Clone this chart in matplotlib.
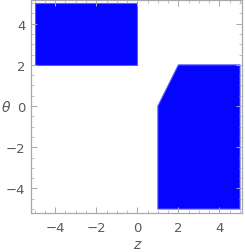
import matplotlib
matplotlib.use("Agg")
import matplotlib.pyplot as plt
from matplotlib.patches import Polygon
from matplotlib.ticker import MultipleLocator

# Region vertices (z, theta)
region1_z = [-5, 0, 0, -5]
region1_theta = [2, 2, 5, 5]
region2_z = [1, 1, 2, 5, 5]
region2_theta = [-5, 0, 2, 2, -5]
ticks = [-4, -2, 0, 2, 4]

fig = plt.figure(figsize=(2.45, 2.53), dpi=100)
ax = fig.add_axes([0.1265, 0.156, 0.8615, 0.84])

fill = "#0505ff"
edge = "#5a5aff"
for zs, ts in [(region1_z, region1_theta), (region2_z, region2_theta)]:
    ax.add_patch(Polygon(list(zip(zs, ts)), closed=True, facecolor=fill,
                         edgecolor=edge, linewidth=0.8))

ax.set_xlim(-5.18, 5.1)
ax.set_ylim(-5.17, 5.15)
ax.set_xticks(ticks)
ax.set_yticks(ticks)
ax.set_xticklabels([f"{t}".replace("-", "\u2212") for t in ticks])
ax.set_yticklabels([f"{t}".replace("-", "\u2212") for t in ticks])
ax.xaxis.set_minor_locator(MultipleLocator(0.5))
ax.yaxis.set_minor_locator(MultipleLocator(0.5))

gray = "#a8a8a8"
for s in ax.spines.values():
    s.set_color(gray)
    s.set_linewidth(0.9)
ax.tick_params(which="both", direction="in", color=gray, labelcolor="#5a5a5a",
               labelsize=9.5, top=True, right=True)
ax.tick_params(which="major", length=4, width=0.7)
ax.tick_params(axis="x", which="major", pad=6)
ax.tick_params(axis="y", which="major", pad=4)
ax.tick_params(which="minor", length=2, width=0.5)

fig.text(137 / 245, 1 - 245 / 253, "z", ha="center", va="center",
         fontsize=10, color="#5a5a5a", style="italic")
fig.text(6 / 245, 1 - 108 / 253, "θ", ha="center", va="center",
         fontsize=10, color="#5a5a5a", style="italic")

fig.savefig("out.png", dpi=100)
